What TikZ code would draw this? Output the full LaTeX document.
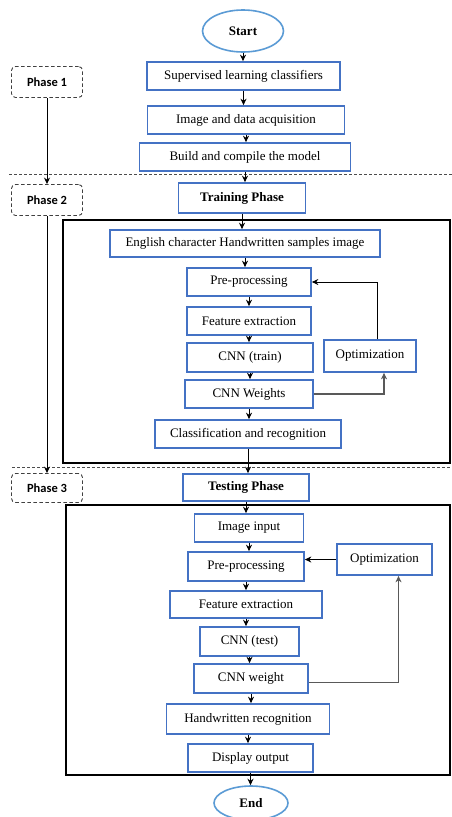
\documentclass[tikz,border=0pt]{standalone}
\usepackage{fontspec}
\setmainfont{Liberation Serif}
\newfontfamily\phasefont{Carlito}
\usetikzlibrary{arrows.meta}
\usetikzlibrary{shapes.geometric}
\definecolor{boxblue}{HTML}{4472C4}
\definecolor{ovalblue}{HTML}{5B9BD5}
\tikzset{
	ovalstyle/.style={ellipse,draw=ovalblue,line width=1.6pt,fill=white,inner sep=0pt,font=\bfseries},
	boxstyle/.style={rectangle,draw=boxblue,line width=1.7pt,fill=white,minimum height=28pt,inner sep=1pt},
	phasestyle/.style={rectangle,rounded corners=4pt,draw=black!75,dash pattern=on 3.5pt off 2.5pt,line width=0.9pt,minimum width=71pt,minimum height=31pt,font=\phasefont\fontsize{12.5}{14}\selectfont\bfseries},
	framestyle/.style={draw=black,line width=2.3pt},
	sepstyle/.style={draw=black!70,dash pattern=on 3pt off 2pt,line width=0.8pt},
	flow/.style={-{Stealth[length=6.5pt,width=6pt]},line width=1pt},
	loopstyle/.style={-{Stealth[length=6.5pt,width=6pt]},draw=black!65,line width=1.2pt}
}

\begin{document}
\begin{tikzpicture}[x=1pt,y=-1pt]
	\fontsize{13}{15}\selectfont
	\useasboundingbox (0,0) rectangle (452,817);
	% frames and phase separators
	\draw[framestyle] (63,220) rectangle (450,463);
	\draw[framestyle] (66,505) rectangle (450,775);
	\draw[sepstyle] (9,174) -- (452,174);
	\draw[sepstyle] (12,467) -- (452,467);
	% phase labels
	\node[phasestyle] (p1) at (47,82) {Phase 1};
	\node[phasestyle] (p2) at (47,200) {Phase 2};
	\node[phasestyle,minimum height=29pt] (p3) at (47,488) {Phase 3};
	% phase 1
	\node[ovalstyle,minimum width=81pt,minimum height=42pt] (start) at (243,31) {Start};
	\node[boxstyle,minimum width=193pt] (sup) at (243.5,76) {Supervised learning classifiers};
	\node[boxstyle,minimum width=197pt] (acq) at (246,120) {Image and data acquisition};
	\node[boxstyle,minimum width=211pt] (build) at (245,157) {Build and compile the model};
	% phase 2
	\node[boxstyle,minimum width=127pt,minimum height=30pt,font=\bfseries] (train) at (242,198) {Training Phase};
	\node[boxstyle,minimum width=270pt,minimum height=27pt] (eng) at (245,243.5) {English character Handwritten samples image};
	\node[boxstyle,minimum width=124pt] (pre1) at (249,282) {Pre-processing};
	\node[boxstyle,minimum width=124pt] (feat1) at (249,321) {Feature extraction};
	\node[boxstyle,minimum width=126pt,minimum height=29pt] (cnn1) at (250,357.5) {CNN (train)};
	\node[boxstyle,minimum width=128pt] (w1) at (249,394) {CNN Weights};
	\node[boxstyle,minimum width=186pt] (cls) at (248,434) {Classification and recognition};
	\node[boxstyle,minimum width=92pt,minimum height=32pt] (opt1) at (370,356) {Optimization};
	% phase 3
	\node[boxstyle,minimum width=126pt,minimum height=27pt,font=\bfseries] (test) at (246,487.5) {Testing Phase};
	\node[boxstyle,minimum width=109pt] (inp) at (249,528) {Image input};
	\node[boxstyle,minimum width=116pt,minimum height=29pt] (pre2) at (246,566.5) {Pre-processing};
	\node[boxstyle,minimum width=95pt,minimum height=31pt] (opt2) at (384.5,559.5) {Optimization};
	\node[boxstyle,minimum width=152pt,minimum height=27pt] (feat2) at (246,604.5) {Feature extraction};
	\node[boxstyle,minimum width=99pt,minimum height=29pt] (cnn2) at (249.5,641.5) {CNN (test)};
	\node[boxstyle,minimum width=114pt,minimum height=29pt] (w2) at (251,678.5) {CNN weight};
	\node[boxstyle,minimum width=163pt,minimum height=30pt] (hw) at (248,719) {Handwritten recognition};
	\node[boxstyle,minimum width=125pt] (disp) at (250.5,758) {Display output};
	\node[ovalstyle,minimum width=74pt,minimum height=34pt] (end) at (251,803) {End};
	% main flow
	\draw[flow] (start) -- (start |- sup.north);
	\draw[flow] (sup) -- (sup |- acq.north);
	\draw[flow] (acq) -- (acq |- build.north);
	\draw[flow] (build) -- (build |- train.north);
	\draw[flow] (train) -- (train |- eng.north);
	\draw[flow] (eng) -- (eng |- pre1.north);
	\draw[flow] (pre1) -- (pre1 |- feat1.north);
	\draw[flow] (feat1) -- (feat1 |- cnn1.north);
	\draw[flow] (cnn1) -- (cnn1 |- w1.north);
	\draw[flow] (w1) -- (w1 |- cls.north);
	\draw[flow] (cls) -- (cls |- test.north);
	\draw[flow] (test) -- (test |- inp.north);
	\draw[flow] (inp) -- (inp |- pre2.north);
	\draw[flow] (pre2) -- (pre2 |- feat2.north);
	\draw[flow] (feat2) -- (feat2 |- cnn2.north);
	\draw[flow] (cnn2) -- (cnn2 |- w2.north);
	\draw[flow] (w2) -- (w2 |- hw.north);
	\draw[flow] (hw) -- (hw |- disp.north);
	\draw[flow] (disp) -- (disp |- end.north);
	% feedback loops
	\draw[loopstyle] (w1.east) -| ([xshift=14pt]opt1.south);
	\draw[flow] ([xshift=7pt]opt1.north) |- (pre1.east);
	\draw[flow] (opt2.west) -- (opt2.west -| pre2.east);
	\draw[loopstyle] ([yshift=-4pt]w2.east) -| ([xshift=14pt]opt2.south);
	% phases
	\draw[flow] (p1) -- (p2);
	\draw[flow] (p2) -- (p3);
\end{tikzpicture}
\end{document}
